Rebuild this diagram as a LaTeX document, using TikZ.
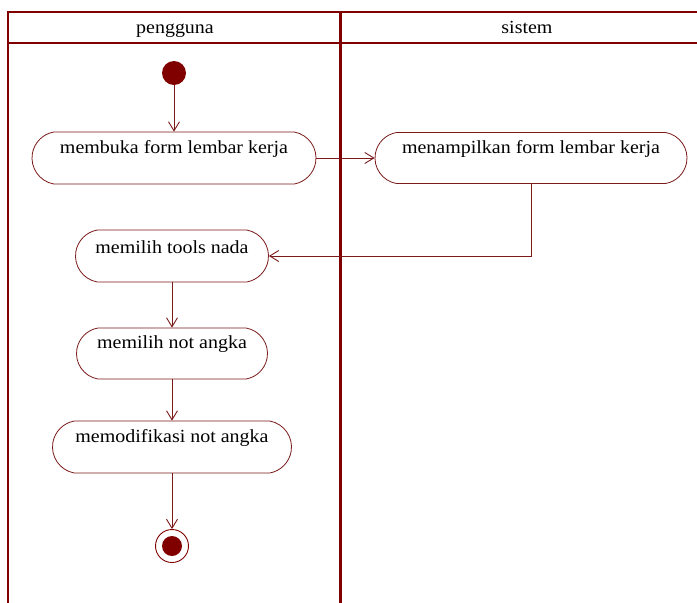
\documentclass[tikz,border=0pt]{standalone}
\usepackage{fontspec}
\setmainfont{Liberation Serif}[FakeStretch=1.08]
\usetikzlibrary{arrows.meta,shapes.misc}
\definecolor{umlred}{HTML}{800000}
\definecolor{umlline}{HTML}{7A1A1A}
\begin{document}
\begin{tikzpicture}[x=1pt,y=-1pt,
  font=\fontsize{18.5}{20}\selectfont,
  lane/.style={draw=umlred,line width=2pt},
  divider/.style={draw=umlred,line width=3pt},
  lanetitle/.style={anchor=base,inner sep=0pt},
  action/.style={rounded rectangle,rounded rectangle arc length=160,
    draw=umlline,line width=0.8pt,inner sep=0pt,fill=white},
  actlabel/.style={anchor=center,yshift=9pt,inner sep=0pt,text=black},
  flow/.style={draw=umlline,line width=0.9pt,
    -{Straight Barb[length=9pt,width=11pt,line width=0.9pt]}},
  startnode/.style={circle,fill=umlred,inner sep=0pt,minimum size=24pt},
  endouter/.style={circle,draw=umlred,line width=0.9pt,fill=white,inner sep=0pt,minimum size=33pt},
  endinner/.style={circle,fill=umlred,inner sep=0pt,minimum size=20pt}
]
\useasboundingbox (0,0) rectangle (697,603);
\fill[white] (0,0) rectangle (697,603);

% swimlane frame
\draw[lane] (8,603) -- (8,12) -- (697,12);
\draw[lane] (8,43) -- (697,43);
\draw[divider] (340,12) -- (340,603);
\node[lanetitle] (hpengguna) at (175,33) {pengguna};
\node[lanetitle] (hsistem) at (527,33) {sistem};

% activities
\node[startnode] (start) at (174,73) {};
\node[action,minimum width=284pt,minimum height=52pt,
  label={[actlabel,name=tmembuka]center:membuka form lembar kerja}] (membuka) at (174,158) {};
\node[action,minimum width=312pt,minimum height=51pt,
  label={[actlabel,name=tmenampilkan]center:menampilkan form lembar kerja}] (menampilkan) at (531,158) {};
\node[action,minimum width=193pt,minimum height=52pt,
  label={[actlabel,name=ttools]center:memilih tools nada}] (tools) at (172,256) {};
\node[action,minimum width=191pt,minimum height=51pt,
  label={[actlabel,name=tnot]center:memilih not angka}] (notangka) at (172,353.5) {};
\node[action,minimum width=239pt,minimum height=52pt,
  label={[actlabel,name=tmodif]center:memodifikasi not angka}] (modif) at (172,447) {};
\node[endouter] (endo) at (172,546) {};
\node[endinner] (endi) at (endo) {};

% control flow
\draw[flow] (start) -- (membuka);
\draw[flow] (membuka.east) -- (menampilkan.west);
\draw[flow] (menampilkan.south) |- (tools.east);
\draw[flow] (tools) -- (notangka);
\draw[flow] (notangka) -- (modif);
\draw[flow] (modif) -- (endo);
\end{tikzpicture}
\end{document}
